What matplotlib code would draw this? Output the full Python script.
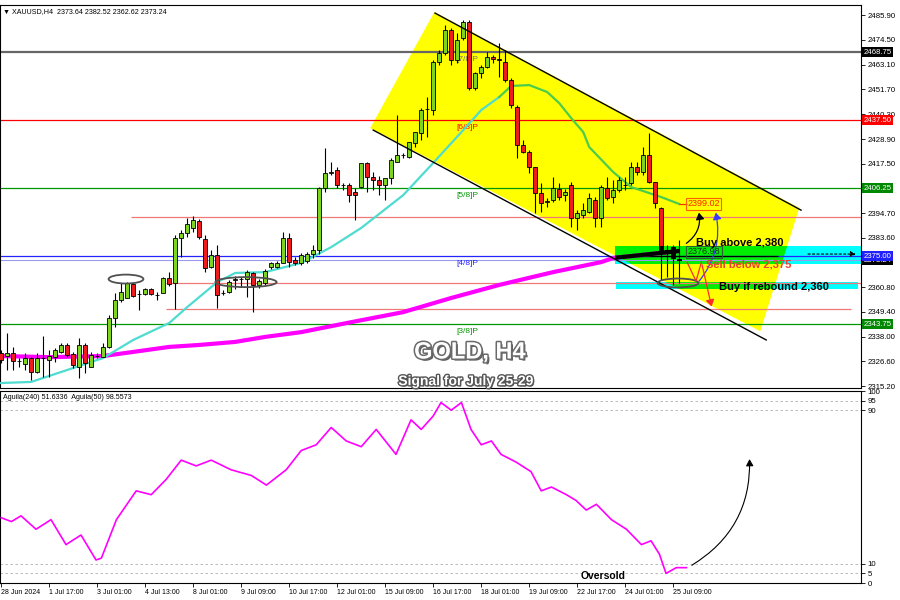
import matplotlib
matplotlib.use('Agg')
import matplotlib.pyplot as plt
import numpy as np
from matplotlib.patches import Polygon, Rectangle, Ellipse, FancyArrowPatch
import matplotlib.patheffects as pe

plt.rcParams['font.family'] = ['Liberation Sans', 'DejaVu Sans']

# ---------------- data ----------------
opens = [2330.3, 2329.0, 2330.3, 2326.8, 2325.3, 2328.0, 2321.9, 2328.0, 2327.3, 2328.8,
         2331.1, 2334.2, 2330.0, 2324.2, 2334.2, 2324.2, 2329.1, 2328.8, 2333.4, 2346.4,
         2354.9, 2355.6, 2362.2, 2357.6, 2357.5, 2359.8, 2357.2, 2358.2, 2364.8, 2362.5,
         2383.2, 2385.5, 2388.0, 2391.0, 2382.8, 2369.9, 2375.6, 2358.0, 2358.7, 2364.1,
         2364.3, 2364.4, 2367.4, 2361.8, 2362.8, 2369.9, 2370.0, 2372.0, 2383.2, 2373.3,
         2371.7, 2373.0, 2376.0, 2378.0, 2406.2, 2413.1, 2414.6, 2407.7, 2407.7, 2404.7,
         2407.0, 2417.7, 2411.6, 2410.0, 2407.7, 2410.8, 2418.5, 2421.5, 2420.8, 2426.9,
         2431.5, 2442.5, 2442.2, 2464.4, 2468.3, 2479.0, 2465.2, 2475.2, 2482.8, 2452.2,
         2459.1, 2462.1, 2466.7, 2465.5, 2464.4, 2456.0, 2443.7, 2426.1, 2423.0, 2416.1,
         2403.9, 2400.1, 2400.8, 2405.7, 2403.0, 2407.7, 2392.4, 2393.9, 2395.5, 2400.8,
         2392.4, 2406.6, 2402.4, 2405.4, 2407.7, 2408.5, 2416.1, 2413.8, 2421.5, 2409.2,
         2397.0, 2377.4, 2379.2, 2373.64]
highs = [2331.9, 2339.5, 2333.4, 2328.1, 2330.3, 2328.8, 2330.3, 2338.3, 2331.9, 2332.6,
         2335.0, 2334.9, 2331.1, 2337.2, 2334.9, 2331.1, 2330.3, 2334.9, 2348.0, 2357.9,
         2362.5, 2363.3, 2362.5, 2359.5, 2360.5, 2360.5, 2358.7, 2365.6, 2367.9, 2384.8,
         2387.0, 2392.6, 2393.5, 2392.0, 2384.8, 2377.9, 2380.2, 2359.5, 2364.1, 2366.0,
         2365.6, 2368.7, 2367.9, 2364.5, 2369.0, 2372.5, 2373.0, 2386.3, 2385.5, 2374.5,
         2376.5, 2377.0, 2380.0, 2407.0, 2424.6, 2418.5, 2416.2, 2408.5, 2408.5, 2406.2,
         2417.7, 2418.5, 2413.9, 2412.0, 2410.8, 2420.0, 2439.9, 2422.3, 2427.7, 2432.3,
         2443.0, 2448.3, 2465.2, 2469.8, 2481.3, 2479.8, 2477.5, 2483.6, 2483.6, 2459.8,
         2462.9, 2469.0, 2467.5, 2472.9, 2470.0, 2457.0, 2444.5, 2428.4, 2423.8, 2416.1,
         2408.5, 2401.6, 2411.5, 2408.5, 2406.0, 2409.2, 2396.2, 2399.3, 2403.9, 2402.4,
         2407.7, 2411.5, 2410.0, 2411.5, 2411.5, 2418.4, 2418.4, 2425.4, 2431.5, 2409.2,
         2397.5, 2380.1, 2380.1, 2382.52]
lows = [2325.7, 2322.7, 2322.7, 2324.2, 2322.7, 2318.0, 2321.1, 2319.6, 2319.6, 2326.5,
        2330.3, 2328.8, 2323.4, 2318.8, 2321.1, 2324.2, 2328.1, 2328.8, 2333.0, 2342.6,
        2354.1, 2355.6, 2356.4, 2350.3, 2357.0, 2357.0, 2354.9, 2357.9, 2361.5, 2350.6,
        2374.8, 2384.0, 2386.0, 2383.0, 2367.9, 2369.4, 2351.0, 2357.2, 2358.0, 2360.0,
        2361.0, 2356.4, 2349.5, 2360.5, 2362.0, 2369.0, 2369.5, 2371.7, 2370.2, 2371.0,
        2371.0, 2372.0, 2374.0, 2376.0, 2404.7, 2412.3, 2406.2, 2405.4, 2400.1, 2391.6,
        2406.2, 2404.7, 2405.4, 2403.0, 2400.8, 2408.0, 2418.5, 2420.0, 2420.0, 2425.4,
        2428.4, 2430.0, 2439.9, 2462.9, 2467.5, 2463.0, 2463.7, 2474.4, 2451.4, 2451.4,
        2456.8, 2461.4, 2464.0, 2457.5, 2455.0, 2443.0, 2420.0, 2422.3, 2413.1, 2394.7,
        2395.5, 2397.8, 2400.0, 2401.0, 2400.5, 2388.6, 2387.0, 2392.4, 2394.7, 2388.6,
        2388.6, 2400.8, 2399.3, 2404.6, 2405.4, 2407.7, 2412.3, 2412.3, 2408.5, 2397.0,
        2364.1, 2365.4, 2361.8, 2362.62]
closes = [2327.2, 2330.3, 2326.9, 2326.8, 2328.3, 2321.9, 2328.0, 2328.2, 2329.1, 2331.9,
          2334.2, 2329.5, 2324.9, 2334.2, 2326.0, 2329.5, 2329.3, 2333.4, 2346.4, 2354.9,
          2358.7, 2362.5, 2356.7, 2357.8, 2359.8, 2357.6, 2357.3, 2364.8, 2362.2, 2383.2,
          2385.8, 2390.0, 2391.5, 2384.0, 2369.4, 2375.6, 2357.2, 2358.1, 2363.3, 2364.3,
          2364.4, 2367.9, 2361.8, 2363.7, 2368.3, 2371.9, 2372.0, 2383.2, 2372.5, 2371.7,
          2375.6, 2376.0, 2378.0, 2406.2, 2413.1, 2413.8, 2407.7, 2407.9, 2403.1, 2403.1,
          2417.7, 2411.6, 2410.0, 2407.7, 2410.8, 2419.2, 2421.5, 2421.6, 2427.7, 2432.3,
          2442.2, 2442.6, 2464.4, 2468.3, 2479.0, 2465.2, 2474.4, 2482.8, 2452.2, 2459.1,
          2462.1, 2466.7, 2465.5, 2465.2, 2456.0, 2444.5, 2426.1, 2423.0, 2416.1, 2403.9,
          2399.3, 2400.3, 2406.2, 2402.4, 2404.6, 2392.4, 2394.7, 2396.2, 2401.6, 2392.4,
          2406.9, 2401.6, 2405.4, 2410.0, 2407.9, 2416.1, 2413.8, 2421.5, 2409.2, 2399.3,
          2377.4, 2377.8, 2374.2, 2373.24]

# moving averages (bar index, value)
ma_fast_up_idx = [0, 5, 11, 17, 22, 28, 31, 36, 39, 44, 50, 55, 60, 67, 72, 77, 80, 83]
ma_fast_up_val = [2316.7, 2317.2, 2322.7, 2328.2, 2336.5, 2344.3, 2351.6, 2363.1, 2367.3,
                  2367.7, 2371.9, 2379.2, 2388.0, 2403.1, 2417.9, 2433.0, 2442.2, 2448.2]
ma_fast_dn_idx = [83, 85, 88, 91, 93, 95, 97, 98, 102, 105, 110, 113]
ma_fast_dn_val = [2448.2, 2453.3, 2453.7, 2450.5, 2445.4, 2438.5, 2432.1, 2425.2, 2413.7,
                  2406.8, 2402.2, 2399.02]
ma_slow_idx = [0, 8, 17, 22, 28, 33, 39, 44, 50, 58, 67, 75, 83, 92, 100, 102, 113]
ma_slow_val = [2329.1, 2328.6, 2329.1, 2331.0, 2333.3, 2334.2, 2335.6, 2337.9, 2340.1,
               2344.5, 2349.3, 2355.8, 2361.8, 2367.7, 2372.3, 2374.2, 2377.4]

# oscillator (bar index, value)
osc_idx = [0, 1.7, 3.3, 5.8, 8.3, 10.8, 13.3, 15.8, 16.7, 19.2, 22.5, 25, 27.5, 30, 32.5, 35,
           38.3, 41.7, 44.2, 47.5, 50, 52.5, 55, 57.5, 60, 62.5, 65.8, 68.3, 70, 72, 73.3,
           75, 76.7, 78.3, 80, 81.7, 83.3, 85.8, 88.3, 90, 91.7, 94.2, 95.8, 97.5, 99.2,
           101.7, 104.2, 106.7, 108.3, 109.7, 110.8, 112.5, 114.2]
osc_val = [34, 32, 35, 28, 33, 20, 25, 12, 13, 33, 48, 46, 54, 64, 61, 64, 59, 56, 51, 59,
           69, 72, 81, 74, 71, 80, 67, 85, 80, 87, 94, 90, 94, 80, 72, 74, 67, 63, 58, 48,
           50, 46, 43, 38, 41, 33, 28, 20, 22, 15, 5, 8, 8]

price_ticks = [2485.90, 2474.50, 2463.10, 2451.70, 2440.30, 2428.90, 2417.50, 2394.70,
               2383.60, 2360.80, 2349.40, 2338.00, 2326.60, 2315.20]
date_tick_idx = list(range(0, 113, 8))
date_labels = ['28 Jun 2024', '1 Jul 17:00', '3 Jul 01:00', '4 Jul 13:00', '8 Jul 01:00',
               '9 Jul 09:00', '10 Jul 17:00', '12 Jul 01:00', '15 Jul 09:00', '16 Jul 17:00',
               '18 Jul 01:00', '19 Jul 09:00', '22 Jul 17:00', '24 Jul 01:00', '25 Jul 09:00']

murray_levels = [2468.75, 2437.50, 2406.25, 2375.00, 2343.75]
murray_names = ['[7/8]P', '[6/8]P', '[5/8]P', '[4/8]P', '[3/8]P']
murray_colors = ['#707070', '#ff0000', '#009900', '#2424ff', '#009900']

# ---------------- figure ----------------
fig = plt.figure(figsize=(9, 6), dpi=100)
ax = fig.add_axes([0.0, 0.3533, 0.9567, 0.6383])
axi = fig.add_axes([0.0, 0.0283, 0.9567, 0.32])

XL = (-0.2, 143.3)
ax.set_xlim(*XL)
ax.set_ylim(2314.4, 2490.5)
axi.set_xlim(*XL)
axi.set_ylim(0, 100)

idx = np.arange(len(opens))
o = np.array(opens); h = np.array(highs); l = np.array(lows); c = np.array(closes)

# channel (yellow)
chan = Polygon([(72.2, 2487.3), (133.0, 2397.2), (126.5, 2340.5), (61.5, 2433.9)],
               closed=True, facecolor='#ffff00', edgecolor='none', zorder=1)
ax.add_patch(chan)

# cyan zones and their green overlap with the channel
zones = [(102.3, 2371.3, 41.5, 8.3), (102.5, 2359.9, 40.3, 3.3)]
zone_patches = []
for (x0, y0, w, hh) in zones:
    r = Rectangle((x0, y0), w, hh, facecolor='#00ffff', edgecolor='none', zorder=1.2)
    ax.add_patch(r)
    g = Rectangle((x0, y0), w, hh, facecolor='#00ee00', edgecolor='none', zorder=1.3)
    ax.add_patch(g)
    g.set_clip_path(chan)
    zone_patches.append(r)

# horizontal levels
ax.axhline(2468.75, color='#666666', lw=1.6, zorder=2)
ax.axhline(2437.50, color='#ff0000', lw=0.9, zorder=2)
ax.axhline(2406.25, color='#009900', lw=0.9, zorder=2)
ax.axhline(2375.00, color='#2424ff', lw=0.9, zorder=2)
ax.axhline(2373.24, color='#9a9aee', lw=0.8, zorder=2)
ax.axhline(2343.75, color='#009900', lw=0.9, zorder=2)
ax.hlines(2393.0, 21.7, XL[1], color='#f07878', lw=0.9, zorder=2)
ax.hlines(2362.7, 27.5, XL[1], color='#f07878', lw=0.9, zorder=2)
ax.hlines(2350.6, 27.5, 141.7, color='#f07878', lw=0.9, zorder=2)
bl = ax.hlines(2375.0, 102.3, 129.5, color='black', lw=0.9, zorder=2.1)
bl.set_clip_path(zone_patches[0])

for lev, name, col in zip(murray_levels, murray_names, murray_colors):
    ax.text(75.9, lev - 1.8, name, color=col, fontsize=6, ha='left', va='top', zorder=2.5)

# moving averages
ax.plot(ma_slow_idx, ma_slow_val, color='#ff00ff', lw=3.0, zorder=3, solid_capstyle='butt')
blk, = ax.plot(ma_slow_idx, ma_slow_val, color='black', lw=3.0, zorder=3.1, solid_capstyle='butt')
blk.set_clip_path(zone_patches[0])
ax.plot(ma_fast_up_idx, ma_fast_up_val, color='#4fdcd0', lw=1.6, zorder=3)
ax.plot(ma_fast_dn_idx, ma_fast_dn_val, color='#4ccc4c', lw=1.6, zorder=3)

# candles
ax.vlines(idx, l, h, colors='black', lw=0.8, zorder=4)
bot = np.minimum(o, c)
hgt = np.maximum(np.abs(c - o), 0.08)
cols = np.where(c > o, '#7fd321', np.where(c < o, '#ee1c1c', 'black'))
ax.bar(idx, hgt, bottom=bot, width=0.62, color=cols, edgecolor='black', linewidth=0.6, zorder=4.1)
dark = ax.bar(idx, hgt, bottom=bot, width=0.62, color='black', edgecolor='black', linewidth=0.6, zorder=4.2)
for p in dark.patches:
    p.set_clip_path(zone_patches[0])

# channel lines
ax.plot([72.3, 133.3], [2486.8, 2396.2], color='black', lw=1.0, zorder=5)
ax.plot([62.0, 127.5], [2433.0, 2336.5], color='black', lw=1.0, zorder=5)

# ellipses
for (cx, cy, w, hh) in [(20.8, 2364.5, 5.8, 4.1), (40.8, 2363.1, 10.2, 4.6), (112.8, 2362.7, 6.8, 4.1)]:
    ax.add_patch(Ellipse((cx, cy), w, hh, facecolor='none', edgecolor='#505050', lw=1.3, zorder=5))

# arrows / scenario lines
ax.add_patch(FancyArrowPatch((113.8, 2380.2), (116.2, 2396.3), connectionstyle='arc3,rad=0.35',
                             arrowstyle='-|>,head_length=4,head_width=2.5', color='black', lw=0.9, zorder=6))
ax.add_patch(FancyArrowPatch((116.0, 2362.5), (119.0, 2396.3), connectionstyle='arc3,rad=0.25',
                             arrowstyle='-|>,head_length=4,head_width=2.5', color='#3a3aff', lw=0.9, zorder=6))
ax.plot([114.3, 115.8, 116.7], [2372.3, 2363.6, 2372.3], color='#ff2a2a', lw=0.9, zorder=6)
ax.add_patch(FancyArrowPatch((116.7, 2372.3), (118.5, 2350.6),
                             arrowstyle='-|>,head_length=4,head_width=2.5', color='#ff2a2a', lw=0.9, zorder=6))
ax.add_patch(FancyArrowPatch((134.0, 2376.0), (142.9, 2376.0), arrowstyle='-|>,head_length=3,head_width=1.5',
                             color='black', lw=0.8, linestyle=(0, (2, 2)), zorder=6))

# price boxes in plot
ax.hlines(2399.02, 113, 114.3, color='#ff3000', lw=0.9, zorder=6)
ax.text(114.4, 2399.02, '2399.02', fontsize=6.5, color='#ff2000', ha='left', va='center', zorder=7,
        bbox=dict(boxstyle='square,pad=0.15', fc='none', ec='#ff6000', lw=0.8))
ax.text(114.4, 2376.98, '2376.98', fontsize=6.5, color='#203020', ha='left', va='center', zorder=7,
        bbox=dict(boxstyle='square,pad=0.15', fc='none', ec='#306030', lw=0.8))

ax.text(115.8, 2381.3, 'Buy above 2,380', fontsize=8, fontweight='bold', color='black', ha='left', va='center', zorder=7)
ax.text(117.5, 2371.4, 'Sell below 2,375', fontsize=8, fontweight='bold', color='#ee4030', ha='left', va='center', zorder=7)
ax.text(119.7, 2360.8, 'Buy if rebound 2,360', fontsize=8, fontweight='bold', color='black', ha='left', va='center', zorder=7)

ax.text(0.546, 0.094, 'GOLD, H4', transform=ax.transAxes, fontsize=17, fontweight='bold', color='white',
        ha='center', va='center', zorder=8,
        path_effects=[pe.SimplePatchShadow(offset=(1.5, -1.5), shadow_rgbFace='#333333', alpha=0.8),
                      pe.Stroke(linewidth=2.2, foreground='#6a6a6a'), pe.Normal()])
ax.text(0.541, 0.018, 'Signal for July 25-29', transform=ax.transAxes, fontsize=10, fontweight='bold',
        color='white', ha='center', va='center', zorder=8,
        path_effects=[pe.SimplePatchShadow(offset=(1, -1), shadow_rgbFace='#333333', alpha=0.8),
                      pe.Stroke(linewidth=2.0, foreground='#555555'), pe.Normal()])

ax.text(0.003, 0.983, '\u25bc XAUUSD,H4  2373.64 2382.52 2362.62 2373.24', transform=ax.transAxes,
        fontsize=5.1, ha='left', va='center', color='black', zorder=8)

# main axis ticks
ax.yaxis.tick_right()
ax.set_yticks(price_ticks)
ax.set_yticklabels([f'{v:.2f}' for v in price_ticks])
ax.tick_params(axis='y', labelsize=5.6, length=3, width=0.6, pad=1.5, colors='black')
ax.tick_params(axis='x', bottom=False, labelbottom=False)
for tag_val, tag_col in [(2468.75, 'black'), (2437.50, '#ff0000'), (2406.25, '#008800'),
                         (2373.24, 'black'), (2375.00, '#2020ff'), (2343.75, '#008800')]:
    ax.text(1.003, tag_val, f'{tag_val:.2f}', transform=ax.get_yaxis_transform(), fontsize=5.6,
            color='white', ha='left', va='center', clip_on=False, zorder=10,
            bbox=dict(boxstyle='square,pad=0.18', fc=tag_col, ec='none'))

# ---------------- oscillator ----------------
for lv in [5, 10, 90, 95]:
    axi.axhline(lv, color='#b0b0b0', lw=0.6, linestyle=(0, (3, 3)), zorder=1)
axi.plot(osc_idx, osc_val, color='#ff00ff', lw=1.2, zorder=3)
axi.add_patch(FancyArrowPatch((114.7, 8.5), (124.7, 66.0), connectionstyle='arc3,rad=0.3',
                              arrowstyle='-|>,head_length=4,head_width=2.2', color='black', lw=0.8, zorder=4))
axi.text(100.3, 3.8, 'Oversold', fontsize=7.5, fontweight='bold', ha='center', va='center', zorder=5)
axi.text(0.003, 0.965, 'Aguila(240) 51.6336  Aguila(50) 98.5573', transform=axi.transAxes,
         fontsize=5.1, ha='left', va='center', zorder=5)
axi.yaxis.tick_right()
axi.set_yticks([0, 5, 10, 90, 95, 100])
axi.set_yticklabels(['0', '5', '10', '90', '95', '100'])
axi.tick_params(axis='y', labelsize=5.6, length=3, width=0.6, pad=1.5)
axi.set_xticks(date_tick_idx)
axi.set_xticklabels(date_labels, ha='left')
axi.tick_params(axis='x', labelsize=5.0, length=3, width=0.6, pad=1.5)

for a in (ax, axi):
    for s in a.spines.values():
        s.set_color('black')
        s.set_linewidth(0.8)

fig.savefig('out.png', dpi=100, facecolor='white')
